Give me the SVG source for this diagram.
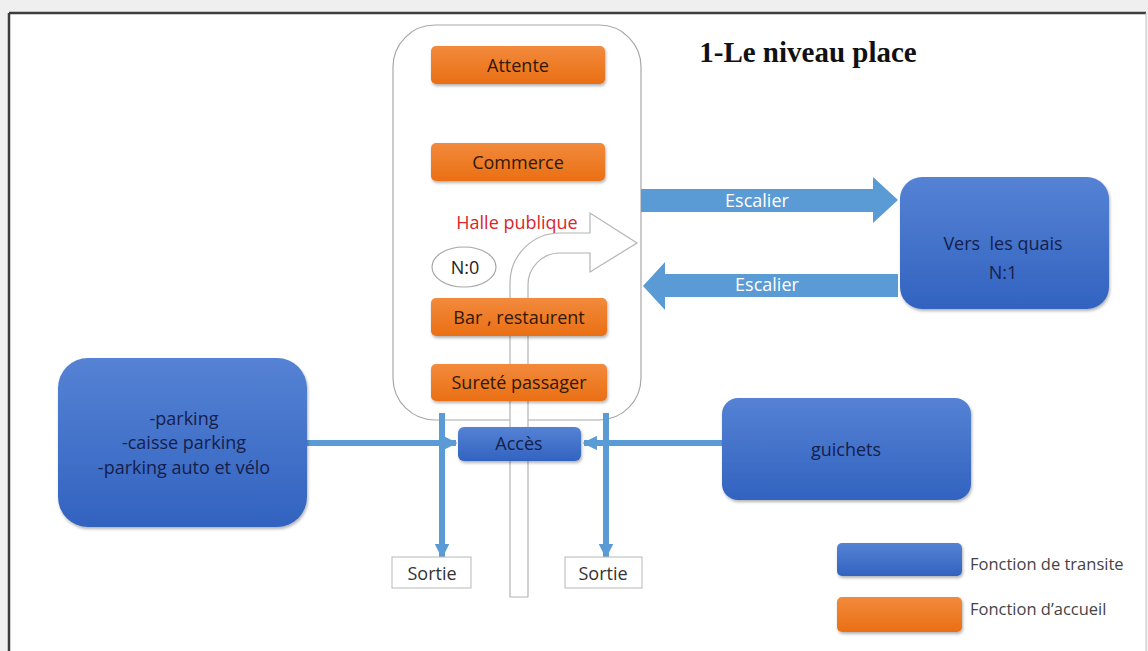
<svg xmlns="http://www.w3.org/2000/svg" width="1148" height="651" viewBox="0 0 1148 651">
  <defs>
    <linearGradient id="gBlue" x1="0" y1="0" x2="0" y2="1">
      <stop offset="0" stop-color="#5582d4"/>
      <stop offset="1" stop-color="#3263c0"/>
    </linearGradient>
    <linearGradient id="gOrange" x1="0" y1="0" x2="0" y2="1">
      <stop offset="0" stop-color="#f28a3c"/>
      <stop offset="1" stop-color="#ea6f14"/>
    </linearGradient>
    <filter id="shadow" x="-10%" y="-10%" width="130%" height="140%">
      <feDropShadow dx="1" dy="2" stdDeviation="1.5" flood-color="#000" flood-opacity="0.3"/>
    </filter>
    <marker id="tip" viewBox="0 0 10 10" refX="9" refY="5" markerWidth="2.4" markerHeight="2.4" orient="auto" markerUnits="strokeWidth">
      <path d="M0,0 L10,5 L0,10 Z" fill="#5b9bd5"/>
    </marker>
    <style>
      .blue { fill: url(#gBlue); filter: url(#shadow); }
      .orange { fill: url(#gOrange); filter: url(#shadow); }
      .lbl { font-family: "Open Sans", "Liberation Sans", Arial, sans-serif; font-size: 18px; text-anchor: middle; dominant-baseline: central; white-space: pre; }
      .dark { fill: #16204a; }
      .brown { fill: #321806; }
      .white { fill: #ffffff; }
      .conn { stroke: #5b9bd5; stroke-width: 6; fill: none; }
      .outline { fill: #ffffff; stroke: #b4b4b4; stroke-width: 1.2; }
      .legend { font-family: "Open Sans", "Liberation Sans", Arial, sans-serif; font-size: 16.5px; fill: #444; dominant-baseline: central; }
    </style>
  </defs>

  <!-- page background and frame -->
  <rect x="0" y="0" width="1148" height="651" fill="#efefef"/>
  <rect x="9" y="13" width="1137" height="645" fill="#ffffff"/>
  <line x1="9" y1="13" x2="1146" y2="13" stroke="#3c3c3c" stroke-width="2.5"/>
  <line x1="9" y1="13" x2="9" y2="651" stroke="#3c3c3c" stroke-width="2.5"/>
  <line x1="1146" y1="13" x2="1146" y2="651" stroke="#c8c8c8" stroke-width="1"/>

  <!-- title -->
  <text x="808" y="62" font-family="Liberation Serif, 'Times New Roman', serif" font-size="29" font-weight="bold" fill="#111" text-anchor="middle">1-Le niveau place</text>

  <!-- public hall container -->
  <g id="halle">
    <rect x="393" y="25" width="248" height="395" rx="42" ry="42" fill="#ffffff" stroke="#a8a8a8" stroke-width="1.2"/>
  </g>

  <!-- U-turn circulation arrow through the hall -->
  <g id="circulation">
    <path class="outline" d="M510,597 L510,283 A50,50 0 0 1 560,233 L590,233 L590,213 L637,243 L590,272 L590,253 L560,253 A32,32 0 0 0 528,285 L528,597 Z"/>
  </g>

  <g id="halle-label">
    <text class="lbl" x="517" y="222" fill="#d8262c">Halle publique</text>
  </g>

  <g id="n0">
    <ellipse cx="464" cy="267" rx="32" ry="20" fill="#ffffff" stroke="#a8a8a8" stroke-width="1.2"/>
    <text class="lbl" x="465" y="267" fill="#222">N:0</text>
  </g>

  <g id="attente">
    <rect class="orange" x="431" y="46" width="174" height="38" rx="5"/>
    <text class="lbl brown" x="518" y="65">Attente</text>
  </g>
  <g id="commerce">
    <rect class="orange" x="431" y="143" width="174" height="38" rx="5"/>
    <text class="lbl brown" x="518" y="162">Commerce</text>
  </g>
  <g id="bar">
    <rect class="orange" x="431" y="298" width="176" height="38" rx="5"/>
    <text class="lbl brown" x="519" y="317">Bar , restaurent</text>
  </g>
  <g id="surete">
    <rect class="orange" x="431" y="364" width="176" height="37" rx="5"/>
    <text class="lbl brown" x="519" y="382">Sureté passager</text>
  </g>

  <!-- connectors -->
  <g id="connectors">
    <!-- stairs up / down -->
    <path d="M641,189 L873,189 L873,177 L898,200 L873,223 L873,212 L641,212 Z" fill="#5b9bd5"/>
    <text class="lbl white" x="757" y="200">Escalier</text>
    <path d="M898,274 L665,274 L665,262 L643,286 L665,310 L665,297 L898,297 Z" fill="#5b9bd5"/>
    <text class="lbl white" x="767" y="284">Escalier</text>
    <!-- access feeds -->
    <line class="conn" x1="306" y1="443" x2="456" y2="443" marker-end="url(#tip)"/>
    <line class="conn" x1="722" y1="443" x2="584" y2="443" marker-end="url(#tip)"/>
    <!-- exits -->
    <line class="conn" x1="442" y1="413" x2="442" y2="557" stroke-width="7" marker-end="url(#tip)"/>
    <line class="conn" x1="606" y1="413" x2="606" y2="557" stroke-width="7" marker-end="url(#tip)"/>
  </g>

  <g id="quais">
    <rect class="blue" x="900" y="177" width="209" height="132" rx="22"/>
    <text class="lbl dark" x="1003" y="243">Vers  les quais</text>
    <text class="lbl dark" x="1003" y="272">N:1</text>
  </g>

  <g id="parking">
    <rect class="blue" x="58" y="358" width="249" height="169" rx="30"/>
    <text class="lbl dark" x="184" y="418">-parking</text>
    <text class="lbl dark" x="184" y="442">-caisse parking</text>
    <text class="lbl dark" x="184" y="467">-parking auto et vélo</text>
  </g>

  <g id="guichets">
    <rect class="blue" x="722" y="398" width="249" height="102" rx="16"/>
    <text class="lbl dark" x="846" y="449">guichets</text>
  </g>

  <g id="acces">
    <rect class="blue" x="458" y="427" width="123" height="34" rx="6"/>
    <text class="lbl dark" x="519" y="443">Accès</text>
  </g>

  <g id="sortie-gauche">
    <rect x="392" y="557" width="79" height="31" fill="#ffffff" stroke="#b8b8b8" stroke-width="1"/>
    <text class="lbl" x="432" y="573" fill="#333">Sortie</text>
  </g>
  <g id="sortie-droite">
    <rect x="565" y="557" width="77" height="31" fill="#ffffff" stroke="#b8b8b8" stroke-width="1"/>
    <text class="lbl" x="603" y="573" fill="#333">Sortie</text>
  </g>

  <!-- legend -->
  <g id="legende">
    <rect class="blue" x="837" y="543" width="125" height="33" rx="5"/>
    <text class="legend" x="970" y="563">Fonction de transite</text>
    <rect class="orange" x="837" y="597" width="125" height="35" rx="5"/>
    <text class="legend" x="970" y="608">Fonction d’accueil</text>
  </g>
</svg>
